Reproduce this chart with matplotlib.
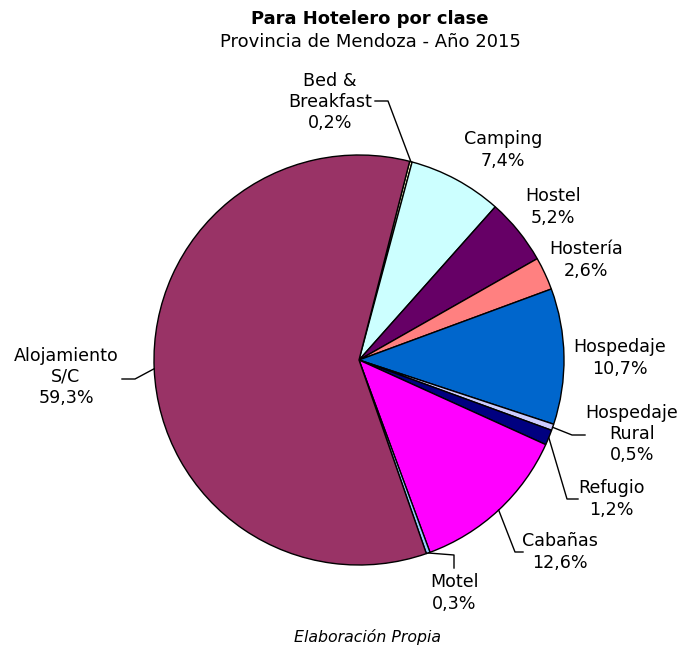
import matplotlib
matplotlib.use("Agg")
import matplotlib.pyplot as plt
import numpy as np

categories = ["Bed &\nBreakfast", "Camping", "Hostel", "Hostería", "Hospedaje",
              "Hospedaje\nRural", "Refugio", "Cabañas", "Motel", "Alojamiento\nS/C"]
values = [0.2, 7.4, 5.2, 2.6, 10.7, 0.5, 1.2, 12.6, 0.3, 59.3]
colors = ["#FFFFCC", "#CCFFFF", "#660066", "#FF8080", "#0066CC",
          "#CCCCFF", "#000080", "#FF00FF", "#99CCFF", "#993366"]

W, H = 681, 648
fig = plt.figure(figsize=(W/100, H/100), dpi=100)
cx, cy, R = 359, 360, 205
ax = fig.add_axes([(cx-R)/W, (H-cy-R)/H, 2*R/W, 2*R/H])

wedges, _ = ax.pie(values, colors=colors, startangle=75.7, counterclock=False,
                   radius=1, wedgeprops=dict(edgecolor="black", linewidth=1.0))
ax.set_xlim(-1, 1); ax.set_ylim(-1, 1); ax.axis("off")
ax.set_aspect("auto")

def d(px, py):
    return ((px-cx)/R, (cy-py)/R)

fs = 12.6
layout = {
    0: ((330, 102), "center", [(388, 101), (375, 101)]),
    1: ((503, 150), "center", None),
    2: ((553, 207), "center", None),
    3: ((586, 260), "center", None),
    4: ((620, 358), "center", None),
    5: ((632, 434), "center", [(572, 435), (585, 435)]),
    6: ((611, 499), "center", [(567, 499), (578, 499)]),
    7: ((560, 552), "center", [(515, 552), (523, 552)]),
    8: ((454, 593), "center", [(454, 555), (454, 568)]),
    9: ((66, 377), "center", [(135, 379), (122, 379)]),
}
for i, w in enumerate(wedges):
    (tx, ty), ha, leader = layout[i]
    pct = f"{values[i]:.1f}".replace(".", ",") + "%"
    ax.text(*d(tx, ty), f"{categories[i]}\n{pct}", ha=ha, va="center",
            fontsize=fs, family="DejaVu Sans", linespacing=1.22)
    if leader:
        mid = np.deg2rad((w.theta1 + w.theta2) / 2)
        pts = [(np.cos(mid), np.sin(mid))] + [d(*p) for p in leader]
        xs, ys = zip(*pts)
        ax.plot(xs, ys, color="black", lw=1.0, clip_on=False)

fig.text(370/W, 1-19/H, "Para Hotelero por clase", ha="center", va="center",
         fontsize=13, fontweight="bold", family="DejaVu Sans")
fig.text(370/W, 1-42/H, "Provincia de Mendoza - Año 2015", ha="center", va="center",
         fontsize=13, family="DejaVu Sans")
fig.text(367/W, 1-637/H, "Elaboración Propia", ha="center", va="center",
         fontsize=11.3, style="italic", family="DejaVu Sans")

fig.savefig("out.png", dpi=100, facecolor="white")
